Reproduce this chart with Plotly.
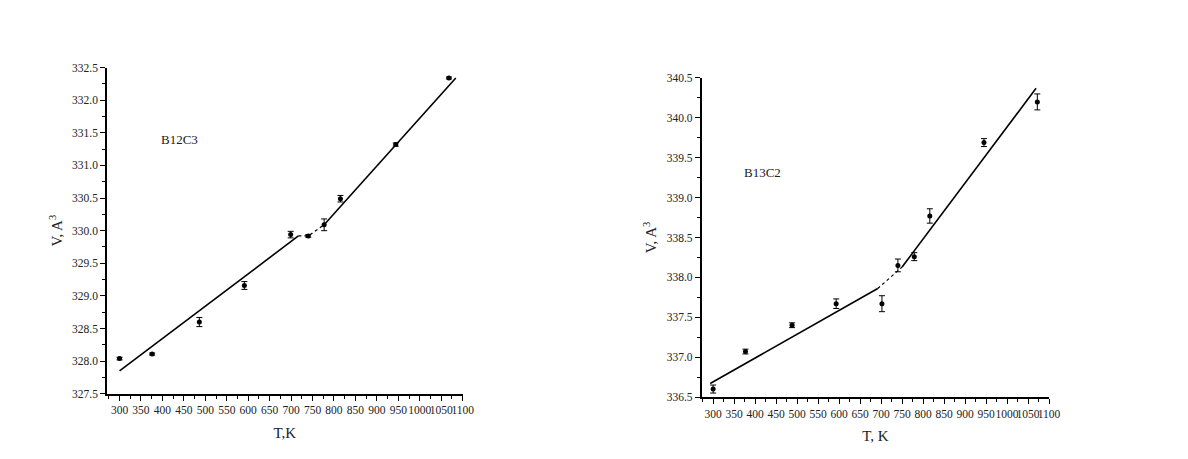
import plotly.graph_objects as go

# B12C3 data
T1 = [300, 376, 486, 591, 699, 740, 777, 815, 944, 1068]
V1 = [328.04, 328.11, 328.60, 329.16, 329.94, 329.92, 330.09, 330.49, 331.32, 332.34]
E1 = [0.02, 0.015, 0.07, 0.06, 0.05, 0.02, 0.09, 0.05, 0.025, 0.015]
fit1a_T = [300, 717]
fit1a_V = [327.85, 329.92]
fit1b_T = [777, 1084]
fit1b_V = [330.09, 332.34]
dot1_T = [717, 740, 777]
dot1_V = [329.92, 329.92, 330.09]

# B13C2 data
T2 = [300, 377, 488, 593, 702, 740, 779, 816, 945, 1072]
V2 = [336.60, 337.07, 337.40, 337.67, 337.67, 338.15, 338.26, 338.77, 339.69, 340.20]
E2 = [0.05, 0.03, 0.03, 0.06, 0.10, 0.08, 0.05, 0.09, 0.05, 0.10]
fit2a_T = [293, 692]
fit2a_V = [336.67, 337.86]
fit2b_T = [750, 1069]
fit2b_V = [338.13, 340.37]
dot2_T = [692, 750]
dot2_V = [337.86, 338.13]

xticks = list(range(300, 1101, 50))

fig = go.Figure()
font = "Liberation Serif, Times New Roman, serif"

def add_panel(T, V, E, fa_T, fa_V, fb_T, fb_V, d_T, d_V, xa, ya):
    fig.add_trace(go.Scatter(x=fa_T, y=fa_V, mode="lines", line=dict(color="black", width=1.6),
                             xaxis=xa, yaxis=ya, showlegend=False, hoverinfo="skip"))
    fig.add_trace(go.Scatter(x=fb_T, y=fb_V, mode="lines", line=dict(color="black", width=1.6),
                             xaxis=xa, yaxis=ya, showlegend=False, hoverinfo="skip"))
    fig.add_trace(go.Scatter(x=d_T, y=d_V, mode="lines", line=dict(color="black", width=1.2, dash="dot"),
                             xaxis=xa, yaxis=ya, showlegend=False, hoverinfo="skip"))
    fig.add_trace(go.Scatter(x=T, y=V, mode="markers", marker=dict(color="black", size=5),
                             error_y=dict(type="data", array=E, color="black", thickness=1, width=3),
                             xaxis=xa, yaxis=ya, showlegend=False))

add_panel(T1, V1, E1, fit1a_T, fit1a_V, fit1b_T, fit1b_V, dot1_T, dot1_V, "x", "y")
add_panel(T2, V2, E2, fit2a_T, fit2a_V, fit2b_T, fit2b_V, dot2_T, dot2_V, "x2", "y2")

axis_common = dict(showline=True, linecolor="black", linewidth=1.5, ticks="outside", ticklen=5,
                   tickwidth=1.2, tickcolor="black", showgrid=False, zeroline=False,
                   tickfont=dict(family=font, size=11.5, color="#222"), mirror=False, tickangle=0)

fig.update_layout(
    width=1188, height=459,
    margin=dict(l=0, r=0, t=0, b=0),
    paper_bgcolor="white", plot_bgcolor="white",
    xaxis=dict(domain=[100/1188, 459.3/1188], range=[270.7, 1100], anchor="y",
               tickvals=xticks, ticktext=[str(v) for v in xticks],
               minor=dict(dtick=25, tick0=275, ticks="outside", ticklen=3, tickcolor="black", tickwidth=1),
               title=dict(text="T,K", font=dict(family=font, size=15, color="#222"), standoff=12),
               **axis_common),
    yaxis=dict(domain=[1-390/459, 1-55/459], range=[327.5, 332.5], anchor="x",
               dtick=0.5, tick0=327.5, tickformat=".1f",
               minor=dict(dtick=0.25, ticks="outside", ticklen=3, tickcolor="black", tickwidth=1),
               title=dict(text="V, A<sup>3</sup>", font=dict(family=font, size=15, color="#222"), standoff=6),
               **axis_common),
    xaxis2=dict(domain=[700.7/1188, 1051.7/1188], range=[272.6, 1100], anchor="y2",
                tickvals=xticks, ticktext=[str(v) for v in xticks],
                minor=dict(dtick=25, tick0=275, ticks="outside", ticklen=3, tickcolor="black", tickwidth=1),
                title=dict(text="T, K", font=dict(family=font, size=15, color="#222"), standoff=12),
                **axis_common),
    yaxis2=dict(domain=[1-393.3/459, 1-65.7/459], range=[336.5, 340.5], anchor="x2",
                dtick=0.5, tick0=336.5, tickformat=".1f",
                minor=dict(dtick=0.25, ticks="outside", ticklen=3, tickcolor="black", tickwidth=1),
                title=dict(text="V, A<sup>3</sup>", font=dict(family=font, size=15, color="#222"), standoff=6),
                **axis_common),
    annotations=[
        dict(text="B12C3", x=173/1188, y=1-129/459, xref="paper", yref="paper", showarrow=False,
             font=dict(family=font, size=13, color="#222"), xanchor="center", yanchor="middle"),
        dict(text="B13C2", x=762/1188, y=1-163/459, xref="paper", yref="paper", showarrow=False,
             font=dict(family=font, size=13, color="#222"), xanchor="center", yanchor="middle"),
    ],
)

fig.write_html("out.html")
